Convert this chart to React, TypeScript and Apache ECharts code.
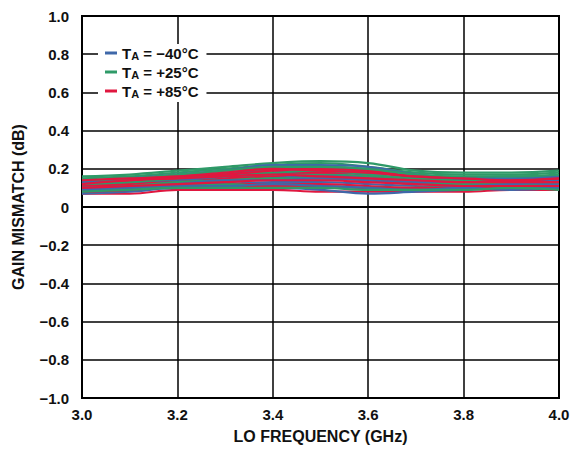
import React, { useEffect, useRef } from "react";
import * as echarts from "echarts";

const freqs = [3.0, 3.1, 3.2, 3.3, 3.4, 3.5, 3.6, 3.7, 3.8, 3.9, 4.0];
const xTicks = ["3.0", "3.2", "3.4", "3.6", "3.8", "4.0"];
const legendNames = ["−40°C", "+25°C", "+85°C"];
const colors = ["#3f68a9", "#2f9a68", "#e0173f"];

const blueLines = [
  [0.10, 0.11, 0.13, 0.15, 0.17, 0.18, 0.17, 0.14, 0.13, 0.12, 0.12],
  [0.08, 0.09, 0.11, 0.12, 0.13, 0.13, 0.12, 0.11, 0.10, 0.10, 0.11],
  [0.12, 0.14, 0.15, 0.17, 0.20, 0.21, 0.20, 0.17, 0.15, 0.14, 0.15],
  [0.07, 0.08, 0.10, 0.10, 0.10, 0.09, 0.07, 0.08, 0.09, 0.10, 0.10],
  [0.11, 0.12, 0.14, 0.16, 0.18, 0.19, 0.18, 0.16, 0.14, 0.13, 0.14],
  [0.09, 0.10, 0.12, 0.13, 0.15, 0.16, 0.15, 0.13, 0.12, 0.11, 0.12],
  [0.13, 0.15, 0.17, 0.19, 0.22, 0.22, 0.21, 0.17, 0.15, 0.15, 0.16],
  [0.10, 0.10, 0.12, 0.14, 0.14, 0.15, 0.14, 0.12, 0.11, 0.12, 0.13],
  [0.08, 0.10, 0.11, 0.11, 0.12, 0.11, 0.10, 0.09, 0.10, 0.09, 0.10],
];

const greenLines = [
  [0.16, 0.17, 0.19, 0.21, 0.23, 0.24, 0.23, 0.19, 0.18, 0.18, 0.19],
  [0.15, 0.16, 0.18, 0.20, 0.22, 0.23, 0.21, 0.18, 0.17, 0.17, 0.18],
  [0.13, 0.14, 0.16, 0.18, 0.20, 0.20, 0.19, 0.16, 0.15, 0.16, 0.16],
  [0.11, 0.12, 0.14, 0.16, 0.17, 0.17, 0.16, 0.14, 0.13, 0.14, 0.14],
  [0.09, 0.10, 0.12, 0.12, 0.11, 0.11, 0.10, 0.10, 0.11, 0.11, 0.12],
  [0.12, 0.13, 0.15, 0.17, 0.18, 0.19, 0.17, 0.15, 0.14, 0.15, 0.15],
  [0.10, 0.11, 0.13, 0.14, 0.15, 0.15, 0.14, 0.12, 0.12, 0.12, 0.13],
  [0.14, 0.15, 0.17, 0.19, 0.21, 0.21, 0.20, 0.17, 0.16, 0.16, 0.17],
  [0.08, 0.09, 0.10, 0.10, 0.10, 0.10, 0.09, 0.09, 0.09, 0.10, 0.09],
];

const redLines = [
  [0.07, 0.07, 0.09, 0.09, 0.09, 0.08, 0.08, 0.08, 0.08, 0.09, 0.09],
  [0.09, 0.10, 0.11, 0.12, 0.12, 0.12, 0.11, 0.10, 0.10, 0.10, 0.10],
  [0.10, 0.12, 0.14, 0.15, 0.16, 0.17, 0.16, 0.14, 0.13, 0.12, 0.12],
  [0.12, 0.13, 0.15, 0.17, 0.18, 0.18, 0.18, 0.15, 0.14, 0.13, 0.14],
  [0.11, 0.12, 0.13, 0.14, 0.15, 0.15, 0.14, 0.13, 0.12, 0.12, 0.13],
  [0.13, 0.14, 0.16, 0.17, 0.19, 0.20, 0.19, 0.16, 0.15, 0.14, 0.15],
  [0.08, 0.09, 0.11, 0.11, 0.11, 0.11, 0.10, 0.10, 0.10, 0.11, 0.11],
  [0.14, 0.15, 0.16, 0.18, 0.20, 0.19, 0.18, 0.16, 0.15, 0.14, 0.15],
  [0.10, 0.11, 0.12, 0.13, 0.14, 0.14, 0.13, 0.12, 0.11, 0.11, 0.11],
  [0.12, 0.14, 0.15, 0.16, 0.17, 0.16, 0.15, 0.14, 0.13, 0.13, 0.13],
];

const groups = [blueLines, greenLines, redLines];

const FONT = "'Liberation Sans', Arial, sans-serif";

function fmtY(v: number): string {
  if (Math.abs(v) < 1e-9) return "0";
  const s = Math.abs(v).toFixed(1);
  return v < 0 ? "−" + s : s;
}

export default function App() {
  const ref = useRef<HTMLDivElement>(null);
  useEffect(() => {
    if (!ref.current) return;
    const chart = echarts.init(ref.current, undefined, { renderer: "svg" });
    const series: any[] = [];
    const maxLen = Math.max(...groups.map((g) => g.length));
    for (let i = 0; i < maxLen; i++) {
      groups.forEach((g, gi) => {
        if (i < g.length) {
          series.push({
            type: "line",
            name: legendNames[gi],
            data: g[i].map((v, k) => [freqs[k], v]),
            showSymbol: false,
            smooth: 0.4,
            lineStyle: { color: colors[gi], width: 2.2 },
            itemStyle: { color: colors[gi] },
            z: 2,
          });
        }
      });
    }
    const txt = { fontFamily: FONT, fontWeight: "bold", color: "#111" };
    chart.setOption({
      animation: false,
      backgroundColor: "#fff",
      grid: {
        left: 82,
        right: 14,
        top: 16,
        bottom: 49,
        show: true,
        borderColor: "#000",
        borderWidth: 2,
        backgroundColor: "transparent",
      },
      legend: {
        data: legendNames,
        orient: "vertical",
        left: 98,
        top: 44,
        backgroundColor: "#fff",
        padding: [1, 8, 3, 7],
        itemGap: 3,
        itemWidth: 12,
        itemHeight: 3,
        icon: "rect",
        z: 10,
        formatter: (name: string) => `{t|T}{s|A}{t| = ${name}}`,
        textStyle: {
          ...txt,
          fontSize: 15,
          lineHeight: 16,
          rich: {
            t: { ...txt, fontSize: 15, lineHeight: 16 },
            s: { ...txt, fontSize: 11, lineHeight: 6, verticalAlign: "bottom" },
          },
        },
      },
      xAxis: {
        type: "value",
        min: 3.0,
        max: 4.0,
        interval: 0.2,
        name: "LO FREQUENCY (GHz)",
        nameLocation: "middle",
        nameGap: 30,
        nameTextStyle: { ...txt, fontSize: 16 },
        axisLine: { show: true, lineStyle: { color: "#000", width: 2 } },
        axisTick: { show: false },
        splitLine: { show: true, lineStyle: { color: "#000", width: 1.5 } },
        axisLabel: {
          ...txt,
          margin: 9,
          fontSize: 15,
          formatter: (v: number) => {
            const idx = Math.round((v - 3.0) / 0.2);
            return xTicks[idx] ?? v.toFixed(1);
          },
        },
      },
      yAxis: {
        type: "value",
        min: -1.0,
        max: 1.0,
        interval: 0.2,
        name: "GAIN MISMATCH (dB)",
        nameLocation: "middle",
        nameGap: 56,
        nameTextStyle: { ...txt, fontSize: 16 },
        axisLine: { show: true, lineStyle: { color: "#000", width: 2 } },
        axisTick: { show: false },
        splitLine: { show: true, lineStyle: { color: "#000", width: 1.5 } },
        axisLabel: {
          ...txt,
          margin: 13,
          fontSize: 15,
          formatter: (v: number) => fmtY(v),
        },
      },
      series,
    });
    return () => chart.dispose();
  }, []);
  return (
    <div
      ref={ref}
      style={{ position: "fixed", left: 0, top: 0, width: 573, height: 449 }}
    />
  );
}
